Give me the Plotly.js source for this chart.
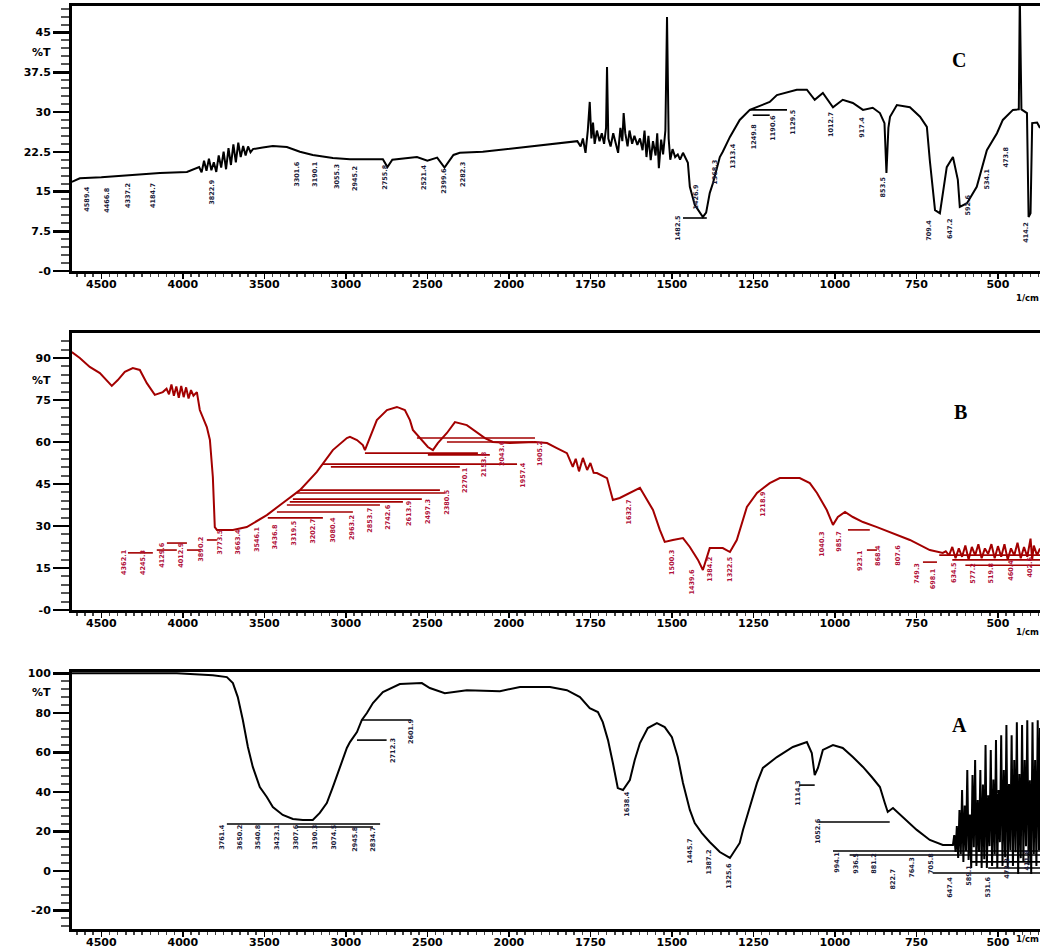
<!DOCTYPE html>
<html><head><meta charset="utf-8">
<script src="https://cdn.plot.ly/plotly-3.0.1.min.js"></script>
<style>body{margin:0;background:#fff}#chart{width:1040px;height:951px}</style>
</head><body><div id="chart"></div>
<script>
// ---------- DATA ----------
const xTickVals = [4500,4000,3500,3000,2500,2000,1750,1500,1250,1000,750,500];
const xTickText = ['4500','4000','3500','3000','2500','2000','1750','1500','1250','1000','750','500'];

// Panel C
const wnC = [4681,4632,4500,4307,4141,3975,
3900,3885,3870,3855,3840,3825,3810,3795,3780,3765,3750,3735,3720,3705,3690,3675,3660,3645,3630,3615,3600,3585,3570,
3510,3448,3362,3282,3203,3080,2975,2773,2745,2715,2564,2500,2440,2395,2340,2301,2160,1975,1874,1800,
1790,1780,1773,1765,1758,1752,1747,1742,1737,1730,1722,1715,1708,1702,1699,1695,1688,1680,1672,1665,1658,1652,1648,1643,1636,1630,1622,1615,1606,1598,1590,1584,1578,1572,1565,1558,1550,1545,1540,1533,1527,1520,1515,1510,1505,1498,1490,1482,1475,1466,1451,
1445,1430,1405,1395,1384,1374,1353,1344,1322,1292,1261,1200,1178,1117,1086,1062,1037,1006,976,945,914,884,862,848,842,836,831,810,770,739,718,709,693,678,657,638,623,617,595,565,549,534,503,485,454,436,433,428,411,406,400,395,380,371];
const tC = [16.8,17.5,17.7,18.1,18.5,18.7,
19.6,18.6,20.8,18.9,21.2,19.0,20.5,18.7,21.8,19.5,22.5,19.2,23.2,20.0,23.9,20.5,24.2,21.5,23.6,21.8,23.5,22.4,23.0,
23.3,23.6,23.4,22.5,21.9,21.3,21.1,21.1,19.6,21.0,21.5,20.8,21.4,19.5,21.9,22.3,22.5,23.2,23.8,24.3,
24.5,23.5,25.0,22.3,26.5,31.9,25.0,28.0,24.0,26.5,24.5,26.0,24.0,27.0,38.5,25.0,23.5,26.0,24.0,22.3,27.0,24.5,29.8,26.0,23.5,26.5,24.0,25.5,23.8,25.0,22.8,26.5,21.5,25.5,20.9,24.5,21.8,26.0,19.4,24.8,22.0,26.5,47.9,25.0,21.0,23.0,21.5,22.0,21.0,22.3,20.4,
15.9,12.5,10.2,11.0,14.7,16.6,21.5,22.5,25.3,28.5,30.4,31.9,33.2,34.2,34.2,32.3,33.6,30.9,32.3,31.7,30.4,30.8,29.8,27.9,18.5,27.0,29.1,31.3,30.9,29.1,27.2,20.9,11.5,10.9,19.6,21.5,17.2,12.1,12.8,15.9,19.6,22.8,26.0,28.5,30.4,30.5,52,30.5,29.8,10.2,10.9,27.9,28.0,27.0];
const peakC_wn = [4589.4,4466.8,4337.2,4184.7,3822.9,3301.6,3190.1,3055.3,2945.2,2755.8,2521.4,2399.6,2282.3,1482.5,1426.9,1368.3,1313.4,1249.8,1190.6,1129.5,1012.7,917.4,853.5,709.4,647.2,592.6,534.1,473.8,414.2];
const peakC_t  = [13.6,13.4,14.3,14.3,14.9,18.3,18.3,17.9,17.5,17.7,17.7,17.0,18.3,8.1,14.0,18.7,21.7,25.5,27.0,28.1,27.7,27.2,15.9,7.7,8.1,12.5,17.4,21.5,7.4];
const leadC_t = [10.0,30.4,29.4];
const leadC_from = [1466,1261,1252];
const leadC_to = [1393,1147,1200];

// Panel B
const wnB = [4681,4632,4571,4509,4436,4399,4356,4307,4264,4221,4172,4123,
4100,4085,4070,4055,4040,4025,4010,3995,3980,3965,3950,3935,3914,
3896,3853,3834,3816,3804,3791,3693,3608,3485,3387,3282,3178,3080,2994,2975,2932,2896,2883,2853,2810,2748,2687,2638,2607,2589,2534,2497,2466,2436,2380,2331,2258,2196,2147,2098,1997,1920,1883,1853,1822,1804,
1795,1785,1773,1760,1750,1740,1730,
1699,1681,1660,1629,1598,1590,1577,1558,1537,1522,1497,1466,1445,1420,1405,1384,1344,1322,1301,1285,1270,1239,1200,1169,1108,1077,1055,1025,1006,991,969,945,914,871,822,770,709,669,
660,650,640,630,620,610,600,590,580,570,560,550,540,530,520,510,500,490,480,470,460,450,440,430,420,410,400,395,390,380,371];
const tB = [92.1,90.0,86.8,84.6,80.0,82.1,85.0,86.4,85.7,81.0,76.8,77.8,
79.0,77.0,80.5,76.5,79.8,75.8,80.0,76.0,79.5,75.5,78.5,76.5,77.8,
71.4,65.3,60.7,47.5,29.6,28.6,28.6,29.6,33.9,38.2,42.8,49.3,57.1,61.4,61.8,60.7,58.9,57.1,61.8,67.8,71.4,72.5,71.4,67.8,64.3,60.7,58.2,57.1,59.6,63.2,67.1,66.0,63.5,61.4,60.0,59.6,60.0,59.6,57.8,56.0,51.1,
54.0,49.5,54.3,50.0,52.5,49.0,48.9,
47.1,39.3,40.0,41.8,43.6,42.0,39.3,35.7,28.6,24.3,25.0,25.7,22.5,17.9,14.3,22.1,22.1,20.7,25.0,31.1,36.8,41.8,45.3,47.1,47.1,45.3,41.8,35.7,30.4,33.2,35.0,33.2,31.4,29.6,27.5,25.0,21.4,20.4,
21.0,19.5,22.5,18.5,22.0,19.0,23.0,18.0,22.5,19.5,23.5,18.5,22.0,20.0,23.5,18.5,22.8,19.0,23.5,18.0,22.0,19.5,24.0,18.5,22.5,19.0,25.5,18.0,23.0,19.5,22.0];
const peakB_wn = [4362.1,4245.3,4129.6,4012.9,3890.2,3773.5,3663.4,3546.1,3436.8,3319.5,3202.7,3080.4,2963.2,2853.7,2742.6,2613.9,2497.3,2380.5,2270.1,2153.8,2043.6,1957.4,1905.2,1632.7,1500.3,1439.6,1384.2,1322.5,1218.9,1040.3,985.7,923.1,868.4,807.6,749.3,698.1,634.5,577.2,519.8,460.4,402.6];
const peakB_t  = [17.1,17.1,19.6,19.6,21.8,24.3,24.3,25.3,26.1,27.5,28.2,28.6,29.6,32.1,33.2,34.6,35.3,38.6,46.4,52.1,56.0,48.2,56.0,35.0,17.1,10.0,14.6,14.6,37.8,23.6,24.6,17.5,19.6,19.6,13.2,11.1,13.2,13.2,13.2,14.3,15.4];
const leadB_t    = [56.0,61.4,60.0,55.4,52.1,51.1,42.8,41.8,39.6,38.6,37.5,35.0,32.9,20.4,21.4,23.9,21.4,25.0,28.6,21.4,17.1,19.6,17.9,16.0];
const leadB_from = [2883,2564,2380,2497,3141,3092,3282,3301,3325,3344,3362,3423,3479,4337,4160,4098,3975,3853,960,902,730,680,640,600];
const leadB_to   = [2190,1920,1926,2117,1975,2301,2423,2393,2534,2650,2791,2957,3141,4184,4037,3975,3896,3791,893,871,687,371,371,371];

// Panel A
const wnA = [4681,4037,3816,3730,3693,3663,3632,3601,3571,3528,3485,3448,3387,3325,3264,3203,3160,3117,3080,3037,
2994,2975,2932,2902,2871,2834,2773,2669,2534,2485,2393,2258,2055,1966,1874,1822,1782,1752,1727,1712,
1696,1681,1666,1650,1629,1614,1598,1574,1546,1522,1500,1482,1466,1445,1430,1408,1384,1353,1322,1292,
1282,1261,1239,1221,1178,1129,1086,1071,1062,1052,1037,1006,976,945,914,887,862,847,838,822,792,749,709,669,
638,634,630,626,622,618,614,610,606,602,598,594,590,586,582,578,574,570,566,562,
558,554,550,546,542,538,534,530,526,522,518,514,510,506,502,498,494,490,486,482,
478,474,470,466,462,458,454,450,446,442,438,434,430,426,422,418,414,410,406,402,
398,394,390,386,382,378,374,371];
const tA = [100.2,100.2,99.2,98.2,95.2,88.1,76.5,62.8,52.7,42.5,37.5,32.4,28.4,26.3,25.8,25.8,29.4,34.4,42.5,52.7,
62.3,65.3,70.4,76.5,80.0,85.1,90.6,94.7,95.2,92.7,90.1,91.6,91.1,93.2,93.2,91.6,88.1,82.5,80.5,75.4,
66.3,54.7,42.0,41.0,46.1,56.2,64.8,72.4,74.9,72.9,67.8,57.7,44.6,30.9,24.3,19.2,14.7,9.6,6.6,14.2,
20.8,32.4,44.6,52.2,57.7,62.8,65.3,59.7,48.6,52.2,61.3,63.8,62.3,57.7,52.7,47.6,42.5,34.4,29.9,31.9,27.3,20.8,15.7,13.2,
13.2,18.2,9.6,22.8,6.6,30.9,8.6,41.0,4.6,33.1,10.0,51.1,5.6,28.6,1.5,48.6,12.0,56.2,2.5,36.0,
9.6,51.1,1.5,43.8,6.0,63.8,1.5,38.3,12.6,61.3,2.5,46.3,8.5,66.3,1.5,41.0,14.6,68.8,2.5,51.1,
7.0,73.9,1.5,44.0,10.6,68.8,2.5,56.2,9.5,75.4,-1.5,49.1,6.5,73.9,4.6,56.2,12.5,76.4,3.0,46.0,
-1.5,75.4,8.6,56.2,2.5,76.4,10.5,72.4];
const peakA_wn = [3761.4,3650.2,3540.8,3423.1,3307.6,3190.3,3074.5,2945.8,2834.7,2712.3,2601.9,1638.4,1445.7,1387.2,1325.6,1114.3,1052.6,994.1,936.5,881.2,822.7,764.3,705.8,647.4,589.1,531.6,473.2,411.8];
const peakA_t  = [17.2,17.2,17.2,17.2,17.2,17.2,17.2,16.2,16.2,61.2,70.8,33.9,10.1,4.6,-2.5,39.5,20.2,4.6,4.0,4.0,-4.0,2.0,4.0,-8.1,-2.0,-8.1,1.5,5.6];
const leadA_t    = [23.8,22.3,76.5,66.3,43.5,24.8,10.1,8.1,4.6,1.5,-1.0];
const leadA_from = [3730,3301,2902,2932,1062,1050,1006,955,580,530,700];
const leadA_to   = [2790,2834,2600,2750,1110,832,371,371,371,371,371];

// ---------- CHART ----------
// Spectrometer x scale: 2 cm-1 per unit above 2000, 1 cm-1 per unit below.
const tx = w => (w > 2000 ? 2000 + (w - 2000) / 2 : w);

const panels = [
  {wn:wnC, t:tC, pw:peakC_wn, pt:peakC_t, ly:leadC_t, lf:leadC_from, lt:leadC_to,
   color:'#000000', labColor:'#1b1b3a', dom:[680/951, 945/951], range:[0,50],
   tv:[0,7.5,15,22.5,30,37.5,45], tt:['-0','7.5','15','22.5','30','37.5','45'], minor:1.5,
   letter:'C', letterPos:[620,39.8], pctY:41.3, cmPy:292},
  {wn:wnB, t:tB, pw:peakB_wn, pt:peakB_t, ly:leadB_t, lf:leadB_from, lt:leadB_to,
   color:'#a30000', labColor:'#b0103a', dom:[341/951, 618/951], range:[0,98.9],
   tv:[0,15,30,45,60,75,90], tt:['-0','15','30','45','60','75','90'], minor:3,
   letter:'B', letterPos:[614,70.7], pctY:82.1, cmPy:632},
  {wn:wnA, t:tA, pw:peakA_wn, pt:peakA_t, ly:leadA_t, lf:leadA_from, lt:leadA_to,
   color:'#000000', labColor:'#1b1b3a', dom:[22/951, 279/951], range:[-29.4,100.8],
   tv:[-20,0,20,40,60,80,100], tt:['-20','0','20','40','60','80','100'], minor:4,
   letter:'A', letterPos:[617,73.9], pctY:90.6, cmPy:945}
];

const tickFont = {family:'DejaVu Sans', size:11, color:'#000', weight:'bold'};
const traces = [];
const annotations = [];
const layout = {
  width:1040, height:951, margin:{l:0, r:0, t:0, b:0},
  paper_bgcolor:'#ffffff', plot_bgcolor:'#ffffff', showlegend:false,
  font:{family:'DejaVu Sans', color:'#000'}
};

panels.forEach((p, i) => {
  const sfx = i === 0 ? '' : String(i + 1);
  const xr = 'x' + sfx, yr = 'y' + sfx;
  layout['xaxis' + sfx] = {
    domain:[72/1040, 1], range:[tx(4680), tx(371)], anchor:yr,
    showline:true, linewidth:3, linecolor:'#000', mirror:true,
    ticks:'outside', ticklen:5, tickwidth:1.5, tickcolor:'#000', ticklabelstandoff:-4,
    tickmode:'array', tickvals:xTickVals.map(tx), ticktext:xTickText,
    tickfont:tickFont, showgrid:false, zeroline:false, fixedrange:true,
    minor:{ticks:'outside', ticklen:3, tickwidth:1.5, tickcolor:'#444', tickmode:'linear', tick0:0, dtick:25, showgrid:false}
  };
  layout['yaxis' + sfx] = {
    domain:p.dom, range:p.range, anchor:xr,
    showline:true, linewidth:3, linecolor:'#000', mirror:false,
    ticks:'outside', ticklen:16, tickwidth:2.5, tickcolor:'#000',
    tickmode:'array', tickvals:p.tv, ticktext:p.tt,
    tickfont:tickFont, showgrid:false, zeroline:false, fixedrange:true,
    minor:{ticks:'outside', ticklen:8, tickwidth:2, tickcolor:'#555', tickmode:'linear', tick0:0, dtick:p.minor, showgrid:false}
  };

  // leader lines (peak-label connectors)
  const lx = [], lyv = [];
  p.ly.forEach((v, k) => { lx.push(tx(p.lf[k]), tx(p.lt[k]), null); lyv.push(v, v, null); });
  traces.push({x:lx, y:lyv, xaxis:xr, yaxis:yr, mode:'lines', line:{color:p.color, width:1.6}, hoverinfo:'skip'});

  // spectrum
  traces.push({x:p.wn.map(tx), y:p.t, xaxis:xr, yaxis:yr, mode:'lines',
    line:{color:p.color, width:2}, hoverinfo:'skip'});

  // peak labels
  p.pw.forEach((w, k) => {
    annotations.push({xref:xr, yref:yr, x:tx(w), y:p.pt[k], text:w.toFixed(1),
      textangle:-90, showarrow:false, font:{family:'DejaVu Sans', size:6.5, color:p.labColor, weight:'bold'}});
  });

  // panel letter
  annotations.push({xref:xr, yref:yr, x:tx(p.letterPos[0]), y:p.letterPos[1], text:p.letter,
    showarrow:false, font:{family:'Liberation Serif', size:20, color:'#000', weight:'bold'}});
  // %T label
  annotations.push({xref:'paper', yref:yr, x:30/1040, y:p.pctY, text:'%T', showarrow:false,
    font:{family:'DejaVu Sans', size:11, color:'#000', weight:'bold'}});
  // unit label (below the axis, right of the last tick label)
  annotations.push({xref:'paper', yref:'paper', x:1, xanchor:'right', y:(951 - p.cmPy) / 951, text:'1/cm', showarrow:false,
    borderpad:0, font:{family:'DejaVu Sans', size:8.5, color:'#000', weight:'bold'}});
});

layout.annotations = annotations;
Plotly.newPlot('chart', traces, layout, {displayModeBar:false, staticPlot:true});
</script></body></html>
